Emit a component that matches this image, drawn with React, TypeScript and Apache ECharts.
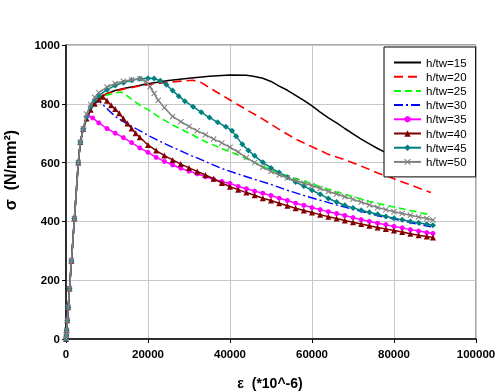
import React, { useEffect, useRef } from "react";
import * as echarts from "echarts";

type Pt = [number, number];

const xTicks = { min: 0, max: 100000, interval: 20000 };
const yTicks = { min: 0, max: 1000, interval: 200 };

const seriesNames = ["h/tw=15", "h/tw=20", "h/tw=25", "h/tw=30", "h/tw=35", "h/tw=40", "h/tw=45", "h/tw=50"];

// common elastic rise (strain *10^-6, stress N/mm2)
const elasticRise: Pt[] = [[0, 0], [70, 14], [150, 30], [320, 64], [540, 108], [860, 172], [1330, 266], [2050, 410], [3000, 600], [3500, 670], [4200, 715]];

const hw15: Pt[] = [[5000, 750], [6000, 780], [7000, 805], [8000, 820], [10000, 835], [12000, 845], [14000, 852], [17000, 860], [20000, 868], [25000, 879], [30000, 887], [35000, 894], [40000, 898], [44000, 897], [46000, 893], [48000, 887], [50000, 876], [52000, 860], [54000, 846], [56000, 829], [58000, 812], [60000, 793], [62000, 772], [64000, 752], [66000, 735], [68000, 716], [70000, 698], [72000, 680], [74000, 664], [76000, 648], [78000, 634], [80000, 622], [84000, 600], [89000, 578]];

const hw20: Pt[] = [[5000, 750], [6000, 780], [7000, 805], [8000, 820], [10000, 834], [12000, 843], [14000, 850], [17000, 858], [20000, 865], [24000, 872], [28000, 877], [31000, 880], [33000, 872], [36000, 846], [40000, 813], [44000, 780], [48000, 748], [52000, 713], [56000, 680], [60000, 654], [64000, 628], [68000, 610], [72000, 588], [76000, 565], [80000, 545], [84000, 524], [89000, 498]];

const hw25: Pt[] = [[5000, 752], [6000, 782], [7000, 805], [8000, 818], [10000, 830], [12000, 837], [13500, 840], [15000, 826], [16500, 810], [18000, 796], [20000, 780], [23000, 752], [26000, 728], [30000, 700], [34000, 671], [38000, 648], [42000, 626], [46000, 600], [50000, 575], [54000, 555], [58000, 537], [62000, 518], [66000, 500], [70000, 484], [74000, 468], [78000, 455], [82000, 443], [86000, 431], [89000, 422]];

const hw30: Pt[] = [[5000, 752], [6000, 782], [7000, 800], [8000, 810], [9500, 790], [11000, 770], [12500, 752], [14500, 735], [17000, 716], [20000, 693], [23000, 672], [26000, 652], [30000, 627], [34000, 604], [38000, 580], [42000, 561], [46000, 543], [50000, 526], [54000, 506], [58000, 488], [62000, 472], [66000, 456], [70000, 441], [74000, 427], [78000, 413], [82000, 402], [86000, 390], [89000, 382]];

const hw35: Pt[] = [[5300, 760], [6500, 752], [8000, 735], [10000, 716], [12000, 700], [14000, 685], [16000, 668], [18000, 650], [20000, 635], [22000, 618], [24000, 604], [26000, 592], [28000, 581], [30000, 571], [32000, 562], [34000, 552], [36000, 543], [38000, 536], [40000, 529], [42000, 519], [44000, 511], [46000, 503], [48000, 496], [50000, 488], [52000, 479], [54000, 471], [56000, 462], [58000, 455], [60000, 447], [62000, 440], [64000, 433], [66000, 427], [68000, 420], [70000, 413], [72000, 406], [74000, 400], [76000, 394], [78000, 389], [80000, 383], [82000, 378], [84000, 372], [86000, 367], [88000, 362], [89500, 359]];

const hw40: Pt[] = [[5000, 750], [6000, 780], [7000, 800], [8000, 815], [9000, 824], [10000, 810], [11000, 795], [12000, 782], [13000, 768], [14000, 750], [15000, 733], [16000, 716], [17000, 700], [18000, 686], [20000, 660], [22000, 641], [24000, 624], [26000, 609], [28000, 595], [30000, 582], [32000, 570], [34000, 558], [36000, 545], [38000, 531], [40000, 518], [42000, 508], [44000, 498], [46000, 489], [48000, 479], [50000, 471], [52000, 462], [54000, 453], [56000, 445], [58000, 437], [60000, 430], [62000, 423], [64000, 416], [66000, 410], [68000, 403], [70000, 397], [72000, 391], [74000, 385], [76000, 379], [78000, 374], [80000, 369], [82000, 364], [84000, 358], [86000, 353], [88000, 349], [89500, 345]];

const hw45: Pt[] = [[5000, 755], [6000, 790], [7000, 813], [8000, 828], [10000, 848], [12000, 862], [14000, 872], [16000, 880], [18000, 885], [20000, 887], [21500, 886], [23000, 878], [24500, 865], [26000, 845], [27500, 826], [29000, 809], [31000, 790], [33000, 771], [35000, 753], [37000, 737], [39000, 722], [40500, 708], [41500, 690], [43000, 662], [44500, 641], [46000, 623], [48000, 601], [50000, 582], [52000, 566], [54000, 550], [56000, 534], [58000, 520], [60000, 506], [62000, 492], [64000, 478], [66000, 466], [68000, 455], [70000, 446], [72000, 438], [74000, 431], [76000, 424], [78000, 417], [80000, 411], [82000, 406], [84000, 400], [86000, 395], [88000, 390], [89500, 387]];

const hw50: Pt[] = [[5000, 765], [6000, 798], [7000, 822], [8000, 838], [10000, 857], [12000, 869], [14000, 877], [16000, 882], [18000, 885], [19500, 876], [20500, 858], [21500, 835], [22500, 812], [24000, 787], [26000, 757], [28000, 739], [30000, 723], [32000, 708], [34000, 695], [36000, 680], [38000, 667], [40000, 652], [42000, 636], [44000, 617], [46000, 600], [48000, 584], [50000, 570], [52000, 558], [54000, 548], [56000, 539], [58000, 530], [60000, 522], [62000, 512], [64000, 502], [66000, 493], [68000, 484], [70000, 475], [72000, 466], [74000, 456], [76000, 447], [78000, 440], [80000, 433], [82000, 427], [84000, 421], [86000, 415], [88000, 410], [89500, 405]];

const seriesData: Pt[][] = [hw15, hw20, hw25, hw30, hw35, hw40, hw45, hw50];

const FONT = "'Liberation Sans', Arial, sans-serif";
const X_MARK = "path://M0,1.2L1.2,0L5,3.8L8.8,0L10,1.2L6.2,5L10,8.8L8.8,10L5,6.2L1.2,10L0,8.8L3.8,5Z";

const styles = [
  { color: "#000000", type: "solid", width: 1.5, symbol: "none", size: 0 },
  { color: "#ff0000", type: [9, 5], width: 1.6, symbol: "none", size: 0 },
  { color: "#00ff00", type: [7, 4], width: 1.6, symbol: "none", size: 0 },
  { color: "#0000ff", type: [9, 3, 2, 3], width: 1.4, symbol: "none", size: 0 },
  { color: "#ff00ff", type: "solid", width: 1.5, symbol: "circle", size: 5 },
  { color: "#800000", type: "solid", width: 1.5, symbol: "triangle", size: 6 },
  { color: "#008080", type: "solid", width: 1.5, symbol: "diamond", size: 6 },
  { color: "#808080", type: "solid", width: 1.5, symbol: X_MARK, size: 6 },
];

export default function App() {
  const ref = useRef<HTMLDivElement>(null);
  useEffect(() => {
    if (!ref.current) return;
    const chart = echarts.init(ref.current, undefined, { renderer: "svg" });
    const series = seriesNames.map((name, i) => {
      const s = styles[i];
      return {
        name,
        type: "line",
        data: [...elasticRise, ...seriesData[i]],
        symbol: s.symbol,
        symbolSize: s.size,
        showSymbol: s.symbol !== "none",
        lineStyle: { color: s.color, width: s.width, type: s.type },
        itemStyle: { color: s.color, borderWidth: 0 },
        smooth: false,
        silent: true,
        z: 2 + i,
      };
    });
    const legendData = seriesNames.map((name, i) =>
      styles[i].symbol === "none"
        ? { name, itemStyle: { color: "rgba(0,0,0,0)", borderWidth: 0, opacity: 0 } }
        : { name }
    );
    chart.setOption({
      animation: false,
      grid: { left: 66, right: 24, top: 45, bottom: 53, show: true, borderColor: "#555555", borderWidth: 1 },
      xAxis: {
        type: "value",
        min: xTicks.min,
        max: xTicks.max,
        interval: xTicks.interval,
        axisLine: { show: true, onZero: false, lineStyle: { color: "#000", width: 1.5 } },
        axisTick: { show: true, length: 4, lineStyle: { color: "#000" } },
        axisLabel: { color: "#000", fontFamily: FONT, fontSize: 11.5, fontWeight: "bold", margin: 9, formatter: (v: number) => String(v) },
        splitLine: { show: true, lineStyle: { color: "#c8c8c8", width: 1 } },
      },
      yAxis: {
        type: "value",
        min: yTicks.min,
        max: yTicks.max,
        interval: yTicks.interval,
        axisLine: { show: true, lineStyle: { color: "#000", width: 1.5 } },
        axisTick: { show: true, length: 4, lineStyle: { color: "#000" } },
        axisLabel: { color: "#000", fontFamily: FONT, fontSize: 11.5, fontWeight: "bold", margin: 6, formatter: (v: number) => String(v) },
        splitLine: { show: true, lineStyle: { color: "#c8c8c8", width: 1 } },
      },
      legend: {
        orient: "vertical",
        left: 384,
        top: 47,
        backgroundColor: "#ffffff",
        borderColor: "#000000",
        borderWidth: 1,
        padding: [9.5, 9, 9, 9],
        itemWidth: 27,
        itemHeight: 8,
        itemGap: 2.2,
        textStyle: { color: "#000", fontFamily: FONT, fontSize: 11.5, lineHeight: 12 },
        data: legendData,
        z: 20,
      },
      graphic: [
        {
          type: "text",
          x: 10.5,
          y: 170,
          rotation: Math.PI / 2,
          style: { text: "σ  (N/mm²)", font: `bold 16px ${FONT}`, fill: "#000", align: "center", verticalAlign: "middle" },
        },
        {
          type: "text",
          x: 270,
          y: 383,
          style: { text: "ε  (*10^-6)", font: `bold 14px ${FONT}`, fill: "#000", align: "center", verticalAlign: "middle" },
        },
      ],
      series,
    });
    return () => chart.dispose();
  }, []);
  return <div ref={ref} style={{ position: "fixed", left: 0, top: 0, width: 500, height: 392 }} />;
}
